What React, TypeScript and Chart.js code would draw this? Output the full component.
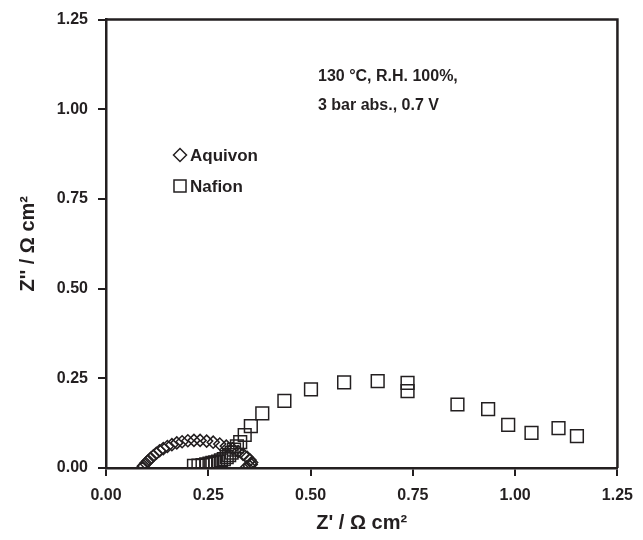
import React, { useEffect, useRef } from "react";
import { Chart, registerables } from "chart.js";

Chart.register(...registerables);

const seriesNames = ["Aquivon", "Nafion"];

const aquivonX = [0.088, 0.092, 0.097, 0.103, 0.109, 0.116, 0.123, 0.131, 0.140, 0.150, 0.161, 0.173, 0.186, 0.200, 0.215, 0.230, 0.246, 0.262, 0.278, 0.294, 0.309, 0.323, 0.335, 0.345, 0.352, 0.356, 0.355, 0.350, 0.344];
const aquivonY = [0.000, 0.006, 0.013, 0.020, 0.027, 0.034, 0.041, 0.048, 0.054, 0.060, 0.065, 0.070, 0.073, 0.076, 0.077, 0.077, 0.075, 0.072, 0.067, 0.061, 0.054, 0.046, 0.038, 0.030, 0.022, 0.015, 0.010, 0.006, 0.003];

const nafionX = [0.215, 0.226, 0.236, 0.245, 0.253, 0.260, 0.267, 0.274, 0.281, 0.288, 0.295, 0.301, 0.307, 0.313, 0.320, 0.328, 0.339, 0.354, 0.382, 0.436, 0.501, 0.582, 0.664, 0.737, 0.737, 0.859, 0.934, 0.983, 1.040, 1.106, 1.151];
const nafionY = [0.006, 0.007, 0.008, 0.010, 0.012, 0.014, 0.016, 0.018, 0.021, 0.025, 0.030, 0.036, 0.043, 0.051, 0.060, 0.072, 0.092, 0.117, 0.152, 0.187, 0.219, 0.239, 0.242, 0.237, 0.214, 0.177, 0.164, 0.120, 0.098, 0.111, 0.089];

const annotationLines = ["130 \u00b0C, R.H. 100%,", "3 bar abs., 0.7 V"];
const xTitle = "Z' / \u03a9 cm\u00b2";
const yTitle = "Z'' / \u03a9 cm\u00b2";

const INK = "#231f20";
const FONT = "'Liberation Sans', Arial, sans-serif";

const toPoints = (xs: number[], ys: number[]) => xs.map((x, i) => ({ x, y: ys[i] }));

const overlayPlugin = {
  id: "overlay",
  afterDraw(chart: any) {
    const { ctx, chartArea } = chart;
    ctx.save();
    ctx.strokeStyle = INK;
    ctx.lineWidth = 2.5;
    ctx.beginPath();
    ctx.moveTo(chartArea.left, chartArea.top);
    ctx.lineTo(chartArea.right, chartArea.top);
    ctx.lineTo(chartArea.right, chartArea.bottom);
    ctx.stroke();

    ctx.fillStyle = INK;
    ctx.font = `bold 16px ${FONT}`;
    ctx.textAlign = "left";
    ctx.textBaseline = "alphabetic";
    annotationLines.forEach((t, i) => {
      ctx.fillText(t, 318, 81 + i * 29);
    });

    const styles = ["rectRot", "rect"];
    const radii = [6.5, 8.5];
    const lx = 180;
    const ly = [155, 186];
    seriesNames.forEach((name, i) => {
      ctx.strokeStyle = INK;
      ctx.lineWidth = 1.5;
      ctx.beginPath();
      if (styles[i] === "rectRot") {
        const r = radii[i];
        ctx.moveTo(lx - r, ly[i]);
        ctx.lineTo(lx, ly[i] - r);
        ctx.lineTo(lx + r, ly[i]);
        ctx.lineTo(lx, ly[i] + r);
        ctx.closePath();
      } else {
        const s = radii[i] * Math.SQRT1_2;
        ctx.rect(lx - s, ly[i] - s, 2 * s, 2 * s);
      }
      ctx.stroke();
      ctx.fillStyle = INK;
      ctx.font = `bold 17px ${FONT}`;
      ctx.textBaseline = "middle";
      ctx.fillText(name, lx + 10, ly[i] + 1);
    });
    ctx.restore();
  },
};

export default function App() {
  const ref = useRef<HTMLCanvasElement | null>(null);

  useEffect(() => {
    if (!ref.current) return;
    const chart = new Chart(ref.current, {
      type: "scatter",
      data: {
        datasets: [
          {
            label: seriesNames[0],
            data: toPoints(aquivonX, aquivonY),
            pointStyle: "rectRot",
            pointRadius: 6,
            pointBorderWidth: 1.5,
            borderColor: INK,
            backgroundColor: "rgba(0,0,0,0)",
            showLine: false,
          },
          {
            label: seriesNames[1],
            data: toPoints(nafionX, nafionY),
            pointStyle: "rect",
            pointRadius: 9,
            pointBorderWidth: 1.5,
            borderColor: INK,
            backgroundColor: "rgba(0,0,0,0)",
            showLine: false,
          },
        ],
      },
      options: {
        responsive: false,
        animation: false,
        layout: { padding: { top: 19, right: 17, left: 0, bottom: 0 } },
        plugins: {
          legend: { display: false },
          tooltip: { enabled: false },
        },
        scales: {
          x: {
            type: "linear",
            min: 0,
            max: 1.25,
            afterFit: (s: any) => {
              s.height = 72;
            },
            ticks: {
              stepSize: 0.25,
              color: INK,
              padding: 10,
              font: { family: FONT, size: 16, weight: "bold" },
              callback: (v: any) => Number(v).toFixed(2),
            },
            grid: {
              display: true,
              drawOnChartArea: false,
              drawTicks: true,
              tickLength: 8,
              color: INK,
              lineWidth: 2,
            },
            border: { display: true, color: INK, width: 2.5 },
            title: {
              display: true,
              text: xTitle,
              color: INK,
              font: { family: FONT, size: 20, weight: "bold" },
              padding: { top: 0, bottom: 5 },
            },
          },
          y: {
            type: "linear",
            min: 0,
            max: 1.25,
            afterFit: (s: any) => {
              s.width = 106;
            },
            ticks: {
              stepSize: 0.25,
              color: INK,
              padding: 10,
              font: { family: FONT, size: 16, weight: "bold" },
              callback: (v: any) => Number(v).toFixed(2),
            },
            grid: {
              display: true,
              drawOnChartArea: false,
              drawTicks: true,
              tickLength: 8,
              color: INK,
              lineWidth: 2,
            },
            border: { display: true, color: INK, width: 2.5 },
            title: {
              display: true,
              text: yTitle,
              color: INK,
              font: { family: FONT, size: 20, weight: "bold" },
              padding: { top: 16, bottom: 0 },
            },
          },
        },
      },
      plugins: [overlayPlugin],
    });
    return () => chart.destroy();
  }, []);

  return (
    <div style={{ position: "fixed", left: 0, top: 0, width: 643, height: 540, background: "#fff" }}>
      <canvas ref={ref} width={643} height={540} style={{ display: "block" }} />
    </div>
  );
}
